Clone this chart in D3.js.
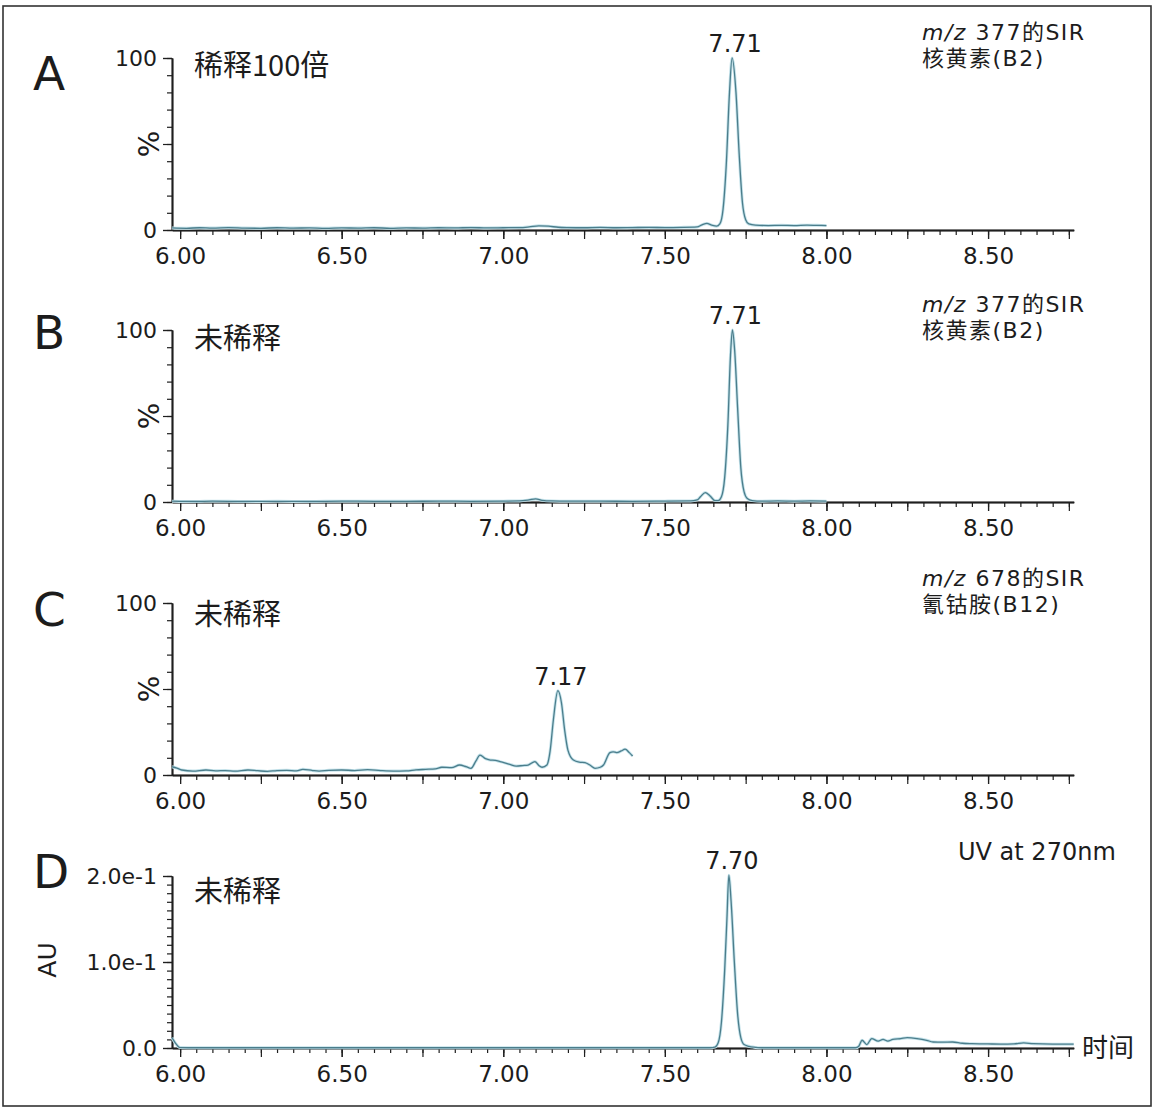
<!DOCTYPE html>
<html>
<head>
<meta charset="utf-8">
<script src="https://cdn.jsdelivr.net/npm/d3@7"></script>
<style>
  html, body { margin: 0; padding: 0; background: #fff; }
  svg { display: block; }
  text { fill: #1c1c1c; }
</style>
</head>
<body>
<svg id="chart" width="1155" height="1109"></svg>
<script>
// ---------------- DATA ----------------
const panelLetters = ["A", "B", "C", "D"];
const sampleLabels = ["稀释100倍", "未稀释", "未稀释", "未稀释"];
const channelPrefix = ["m/z", "m/z", "m/z", ""];
const channelLine1 = [" 377的SIR", " 377的SIR", " 678的SIR", "UV at 270nm"];
const channelLine2 = ["核黄素(B2)", "核黄素(B2)", "氰钴胺(B12)", ""];
const peakTimes = [7.708, 7.709, 7.169, 7.698];
const peakLabels = ["7.71", "7.71", "7.17", "7.70"];
const xLabelTicks = [6.00, 6.50, 7.00, 7.50, 8.00, 8.50];
const pctTickLabels = ["0", "100"];
const auTickLabels = ["0.0", "1.0e-1", "2.0e-1"];
const yTitles = ["%", "%", "%", "AU"];
const xTitle = "时间";

// Panel A: SIR m/z 377, 100x dilution (% intensity)
const timesA = [5.975, 6.02, 6.06, 6.10, 6.15, 6.20, 6.25, 6.30, 6.35, 6.40, 6.45, 6.50, 6.55, 6.60, 6.65, 6.70, 6.75, 6.80, 6.85, 6.90, 6.95, 7.00, 7.05, 7.08, 7.11, 7.14, 7.17, 7.20, 7.25, 7.30, 7.35, 7.40, 7.45, 7.50, 7.55, 7.60, 7.615, 7.63, 7.645, 7.66, 7.67, 7.68, 7.69, 7.70, 7.708, 7.72, 7.73, 7.74, 7.75, 7.76, 7.78, 7.82, 7.86, 7.90, 7.94, 7.97, 8.00];
const valuesA = [1.2, 1.0, 1.3, 1.1, 1.4, 1.1, 1.0, 1.3, 1.1, 1.2, 1.0, 1.2, 1.1, 1.3, 1.0, 1.2, 1.1, 1.3, 1.2, 1.4, 1.2, 1.3, 1.4, 1.8, 2.4, 2.2, 1.6, 1.4, 1.3, 1.5, 1.3, 1.4, 1.5, 1.4, 1.5, 1.8, 3.0, 3.8, 2.8, 2.2, 3.5, 12, 38, 80, 100, 80, 44, 16, 6, 3.5, 2.8, 2.6, 2.7, 2.6, 2.8, 2.7, 2.6];

// Panel B: SIR m/z 377, undiluted
const timesB = [5.975, 6.05, 6.10, 6.20, 6.30, 6.40, 6.50, 6.60, 6.70, 6.80, 6.90, 7.00, 7.05, 7.08, 7.10, 7.12, 7.15, 7.20, 7.30, 7.40, 7.50, 7.58, 7.60, 7.61, 7.625, 7.64, 7.655, 7.665, 7.675, 7.685, 7.695, 7.703, 7.709, 7.716, 7.725, 7.735, 7.745, 7.755, 7.77, 7.80, 7.85, 7.90, 7.95, 8.00];
const valuesB = [0.5, 0.3, 0.5, 0.3, 0.4, 0.3, 0.5, 0.4, 0.4, 0.5, 0.4, 0.5, 0.6, 1.2, 1.8, 1.0, 0.6, 0.5, 0.5, 0.4, 0.5, 0.6, 1.2, 3.0, 5.5, 3.5, 0.8, 0.8, 3, 14, 45, 85, 100, 88, 55, 20, 6, 2, 0.8, 0.5, 0.6, 0.5, 0.6, 0.5];

// Panel C: SIR m/z 678, undiluted
const timesC = [5.975, 5.99, 6.005, 6.04, 6.08, 6.11, 6.14, 6.17, 6.21, 6.24, 6.27, 6.30, 6.33, 6.36, 6.38, 6.41, 6.43, 6.46, 6.50, 6.54, 6.58, 6.62, 6.66, 6.70, 6.73, 6.76, 6.79, 6.81, 6.84, 6.865, 6.885, 6.90, 6.915, 6.928, 6.945, 6.96, 6.975, 6.99, 7.02, 7.04, 7.06, 7.077, 7.098, 7.11, 7.12, 7.135, 7.145, 7.155, 7.169, 7.18, 7.19, 7.20, 7.217, 7.235, 7.253, 7.27, 7.284, 7.30, 7.31, 7.33, 7.34, 7.351, 7.365, 7.377, 7.39, 7.40];
const valuesC = [4.8, 4.0, 2.9, 2.3, 2.9, 2.4, 2.6, 2.2, 2.9, 2.5, 2.1, 2.6, 2.7, 2.4, 3.3, 2.6, 2.3, 2.7, 2.9, 2.6, 3.1, 2.6, 2.3, 2.4, 3.0, 3.3, 3.6, 4.5, 4.3, 5.8, 4.8, 3.9, 8.0, 11.6, 9.5, 8.7, 8.5, 7.8, 6.2, 5.2, 5.5, 5.8, 7.8, 5.5, 4.5, 5.8, 14, 32, 49, 42, 26, 14.5, 8.7, 7.5, 7.2, 5.5, 3.9, 4.5, 5.8, 13, 13.5, 13, 14, 15, 13, 11];

// Panel D: UV at 270 nm (AU)
const timesD = [5.975, 5.985, 6.00, 6.05, 6.50, 7.00, 7.50, 7.64, 7.655, 7.665, 7.675, 7.685, 7.692, 7.698, 7.705, 7.715, 7.725, 7.735, 7.745, 7.76, 7.775, 7.80, 7.90, 8.00, 8.09, 8.10, 8.11, 8.125, 8.14, 8.16, 8.175, 8.19, 8.205, 8.23, 8.25, 8.28, 8.31, 8.33, 8.36, 8.39, 8.42, 8.45, 8.50, 8.54, 8.58, 8.61, 8.64, 8.70, 8.765];
const valuesD = [0.012, 0.006, 0.0005, 0.0003, 0.0003, 0.0003, 0.0003, 0.0003, 0.001, 0.006, 0.03, 0.09, 0.15, 0.201, 0.17, 0.10, 0.04, 0.012, 0.004, 0.002, 0.001, 0.0003, 0.0003, 0.0003, 0.0003, 0.002, 0.009, 0.004, 0.011, 0.008, 0.010, 0.008, 0.010, 0.011, 0.012, 0.011, 0.009, 0.007, 0.0068, 0.007, 0.0055, 0.005, 0.0047, 0.0045, 0.0047, 0.006, 0.005, 0.0045, 0.0045];

const seriesTimes = [timesA, timesB, timesC, timesD];
const seriesValues = [valuesA, valuesB, valuesC, valuesD];
const yMax = [100, 100, 100, 0.2];

// ---------------- LAYOUT ----------------
const W = 1155, H = 1109;
const plotLeft = 172, plotRight = 1073.7;
const panelTop = [58, 330, 603, 876];
const panelH = 172;
const letterBase = [90, 349, 626, 888];
const sampleBase = [76, 349, 625, 902];
const chanBase = [[40, 66], [312, 338], [586, 612], [860, 0]];
const chanX = [922, 922, 922, 958];

const LATIN = "'DejaVu Sans', 'Noto Sans CJK SC', sans-serif";
const CJK = "'Noto Sans CJK SC', 'DejaVu Sans', sans-serif";
const AXIS_COLOR = "#1f1f1f";
const LINE_COLOR = "#4b7d8b";
const HALO_COLOR = "#c4e2ea";

const svg = d3.select("#chart");
svg.append("rect").attr("width", W).attr("height", H).attr("fill", "#fff");
svg.append("rect").attr("x", 3).attr("y", 6).attr("width", 1148).attr("height", 1100)
  .attr("fill", "none").attr("stroke", "#333").attr("stroke-width", 1.6);

const x = d3.scaleLinear().domain([5.975, 8.765]).range([plotLeft, plotRight]);
const minorX = d3.range(0, 56).map(i => +(6 + i * 0.05).toFixed(2));
const majorX = d3.range(0, 12).map(i => +(6 + i * 0.25).toFixed(2));

function styleAxis(g) {
  g.selectAll("path.domain").attr("stroke", AXIS_COLOR).attr("stroke-width", 1.5);
  g.selectAll(".tick line").attr("stroke", AXIS_COLOR).attr("stroke-width", 1.2);
}

panelLetters.forEach((letter, i) => {
  const top = panelTop[i], bottom = top + panelH;
  const y = d3.scaleLinear().domain([0, yMax[i]]).range([bottom, top]);
  const g = svg.append("g");

  // X axis: minor ticks, 0.25 major ticks, labelled ticks
  const gxMinor = g.append("g").attr("transform", `translate(0,${bottom})`)
    .call(d3.axisBottom(x).tickValues(minorX).tickSize(5).tickSizeOuter(0).tickFormat(""));
  styleAxis(gxMinor);
  const gxMajor = g.append("g").attr("transform", `translate(0,${bottom})`)
    .call(d3.axisBottom(x).tickValues(majorX).tickSize(9).tickSizeOuter(0).tickFormat(""));
  styleAxis(gxMajor);
  const gxLab = g.append("g").attr("transform", `translate(0,${bottom})`)
    .call(d3.axisBottom(x).tickValues(xLabelTicks).tickSize(9).tickSizeOuter(0).tickPadding(9).tickFormat(d3.format(".2f")));
  styleAxis(gxLab);
  gxLab.selectAll(".tick text").attr("font-family", LATIN).attr("font-size", 23).attr("fill", "#1c1c1c");

  // Y axis
  let minorY, majorY, labY, labFmt;
  if (i < 3) {
    minorY = d3.range(0, 11).map(k => k * 10);
    majorY = [0, 50, 100];
    labY = [0, 100];
    labFmt = d => pctTickLabels[labY.indexOf(d)];
  } else {
    minorY = d3.range(0, 21).map(k => +(k * 0.01).toFixed(2));
    majorY = [0, 0.1, 0.2];
    labY = [0, 0.1, 0.2];
    labFmt = d => auTickLabels[labY.indexOf(d)];
  }
  const gyMinor = g.append("g").attr("transform", `translate(${plotLeft},0)`)
    .call(d3.axisLeft(y).tickValues(minorY).tickSize(5).tickSizeOuter(0).tickFormat(""));
  styleAxis(gyMinor);
  const gyMajor = g.append("g").attr("transform", `translate(${plotLeft},0)`)
    .call(d3.axisLeft(y).tickValues(majorY).tickSize(9).tickSizeOuter(0).tickFormat(""));
  styleAxis(gyMajor);
  const gyLab = g.append("g").attr("transform", `translate(${plotLeft},0)`)
    .call(d3.axisLeft(y).tickValues(labY).tickSize(9).tickSizeOuter(0).tickPadding(6).tickFormat(labFmt));
  styleAxis(gyLab);
  gyLab.selectAll(".tick text").attr("font-family", LATIN).attr("font-size", 22).attr("fill", "#1c1c1c");

  // Y title
  const tx = i < 3 ? 149 : 47;
  const ty = i < 3 ? y(50) : y(0.1) - 2;
  g.append("text").attr("transform", `translate(${tx},${ty}) rotate(-90)`)
    .attr("text-anchor", "middle").attr("dy", "0.36em")
    .attr("font-family", LATIN).attr("font-size", i < 3 ? 28 : 25).text(yTitles[i]);

  // Trace
  const pts = seriesTimes[i].map((t, k) => [t, seriesValues[i][k]]);
  const line = d3.line().x(d => x(d[0])).y(d => y(d[1])).curve(d3.curveMonotoneX);
  g.append("path").datum(pts).attr("d", line).attr("fill", "none")
    .attr("stroke", HALO_COLOR).attr("stroke-width", 3).attr("stroke-linejoin", "round");
  g.append("path").datum(pts).attr("d", line).attr("fill", "none")
    .attr("stroke", LINE_COLOR).attr("stroke-width", 1.3).attr("stroke-linejoin", "round");

  // Peak label
  const pk = seriesValues[i][seriesTimes[i].indexOf(peakTimes[i])];
  g.append("text").attr("x", x(peakTimes[i]) + 3).attr("y", y(pk) - 6)
    .attr("text-anchor", "middle").attr("font-family", LATIN).attr("font-size", 24)
    .text(peakLabels[i]);

  // Panel letter
  g.append("text").attr("x", 33).attr("y", letterBase[i])
    .attr("font-family", LATIN).attr("font-size", 47).text(letter);

  // Sample label
  g.append("text").attr("x", 194).attr("y", sampleBase[i])
    .attr("font-family", CJK).attr("font-size", 29).text(sampleLabels[i]);

  // Channel labels
  const t1 = g.append("text").attr("x", chanX[i]).attr("y", chanBase[i][0])
    .attr("font-family", LATIN).attr("font-size", i === 3 ? 24 : 22)
    .attr("letter-spacing", i === 3 ? 0 : 1.5);
  if (channelPrefix[i]) t1.append("tspan").attr("font-style", "italic").text(channelPrefix[i]);
  t1.append("tspan").text(channelLine1[i]);
  if (channelLine2[i]) {
    g.append("text").attr("x", chanX[i]).attr("y", chanBase[i][1])
      .attr("font-family", LATIN).attr("font-size", 22).attr("letter-spacing", 1.5)
      .text(channelLine2[i]);
  }

  if (i === 3) {
    g.append("text").attr("x", 1082).attr("y", bottom + 9)
      .attr("font-family", CJK).attr("font-size", 26).text(xTitle);
  }
});
</script>
</body>
</html>
